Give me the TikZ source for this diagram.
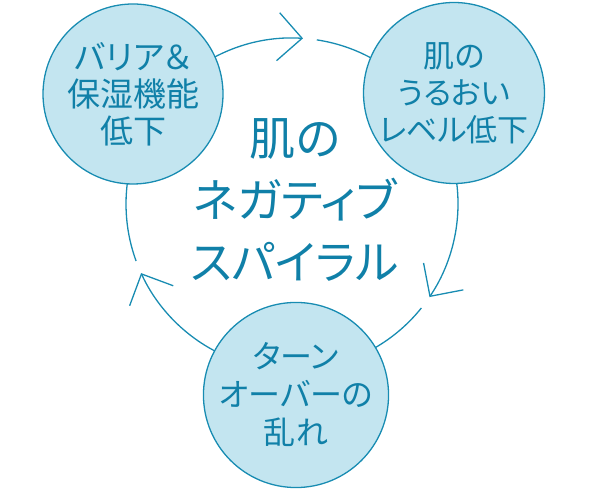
\documentclass[tikz,border=0pt]{standalone}
\usepackage{fontspec}
\setmainfont{Noto Sans CJK JP}[RawFeature=+palt]
\usepackage{tikz}
\usetikzlibrary{arrows.meta}
\definecolor{skyline}{RGB}{24,140,178}
\definecolor{skyfill}{RGB}{195,229,240}
\definecolor{skytext}{RGB}{16,128,168}
\begin{document}
\begin{tikzpicture}[
    x=1pt,y=1pt,
    bubble/.style={draw=skyline,line width=1.3pt,fill=skyfill,circle,
      minimum size=180pt,inner sep=0pt,align=center,text=skytext},
    cyclearc/.style={skyline,line width=1.3pt,
      -{Straight Barb[length=24pt,width=48pt]}}
    ]
    \useasboundingbox (0, 0) rectangle (590, 500);
    \coordinate (hub) at (292, 296);
    \draw[cyclearc] ([shift={(200.1:166)}]hub) arc[start angle=200.1, end angle=86.2, radius=166];
    \draw[cyclearc] ([shift={(81.4:166)}]hub) arc[start angle=81.4, end angle=-34.1, radius=166];
    \draw[cyclearc] ([shift={(-38.8:166)}]hub) arc[start angle=-38.8, end angle=-155.4, radius=166];
    \node[bubble,font=\fontsize{33}{37}\selectfont] (barrier) at (133, 406)
      {バリア＆\\保湿機能\\低下};
    \node[bubble,font=\fontsize{31}{37}\selectfont] (moist) at (454, 407)
      {肌の\\うるおい\\レベル低下};
    \node[bubble,font=\fontsize{32}{38}\selectfont] (turnover) at (296, 105)
      {ターン\\オーバーの\\乱れ};
    \node[align=center,text=skytext,font=\fontsize{46}{62}\selectfont] (title) at (295, 300)
      {肌の\\ネガティブ\\スパイラル};
  \end{tikzpicture}
\end{document}
